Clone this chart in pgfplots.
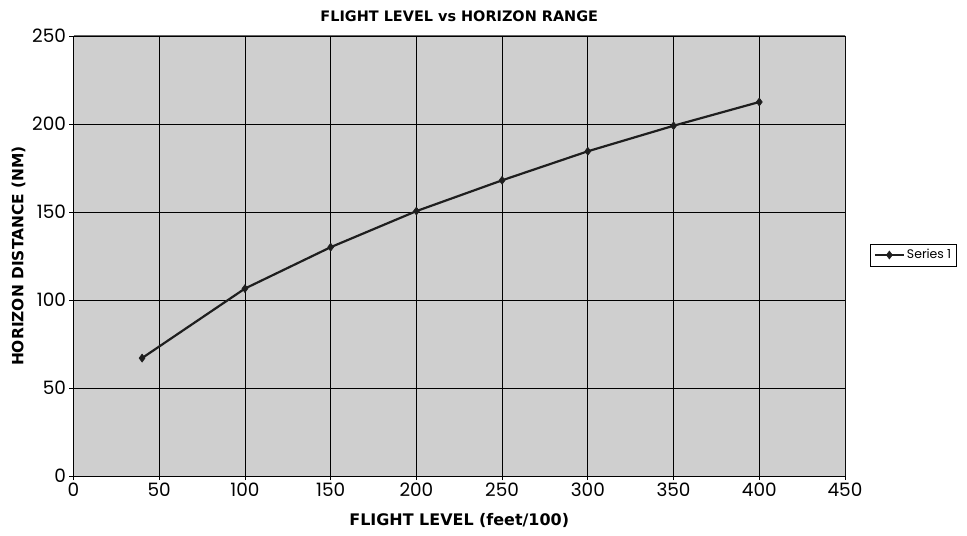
\documentclass[border=0pt]{standalone}
\usepackage{fontspec}
\setmainfont{Poppins}
\newfontfamily\labfont{DejaVu Sans}
\usepackage{pgfplots}
\pgfplotsset{compat=1.18}
\definecolor{bggray}{HTML}{CFCFCF}
\definecolor{lineclr}{HTML}{1E1E1E}
\begin{document}
\begin{tikzpicture}
\useasboundingbox (-73.5bp,-60bp) rectangle (893.5bp,476bp);
\begin{axis}[
  scale only axis,
  width=771.5bp, height=440bp,
  xmin=0, xmax=450, ymin=0, ymax=250,
  xtick={0,50,...,450}, ytick={0,50,...,250},
  grid=major,
  major grid style={black, line width=0.8pt},
  axis background/.style={fill=bggray},
  axis x line*=bottom, axis y line*=left,
  axis line style={black, line width=0.8pt},
  tick style={black, line width=0.8pt},
  tick align=outside, major tick length=4bp,
  /pgf/number format/assume math mode=true,
  ticklabel style={font=\fontsize{18.5}{18.5}\selectfont},
  xticklabel style={yshift=1bp},
  title={\labfont\bfseries\fontsize{14.5}{15}\selectfont FLIGHT LEVEL vs HORIZON RANGE},
  title style={at={(0.5,1)}, anchor=south, yshift=5bp},
  xlabel={\labfont\bfseries\fontsize{16}{16}\selectfont FLIGHT LEVEL (feet/100)},
  ylabel={\labfont\bfseries\fontsize{15.5}{16}\selectfont HORIZON DISTANCE (NM)},
  xlabel style={yshift=-10bp},
  ylabel style={yshift=0bp},
  legend style={at={(840bp,221bp)}, anchor=center, draw=black, line width=0.8pt,
    font=\fontsize{12.5}{12.5}\selectfont, inner xsep=3.5pt, inner ysep=3.5pt},
  legend cell align=left,
  legend image code/.code={\draw[#1] (0bp,0bp) -- (29bp,0bp); \draw[#1,mark repeat=1] plot coordinates {(14.5bp,0bp)};},
]
\draw[gray!80!black, line width=1pt] (axis cs:0,250) -- (axis cs:450,250) -- (axis cs:450,0);
\addplot[lineclr, line width=2.2pt, mark=diamond*, mark size=4pt, mark options={solid, fill=lineclr, line width=0.6pt}]
  coordinates {(40,67) (100,106.5) (150,130) (200,150.5) (250,168) (300,184.5) (350,199) (400,212.5)};
\addlegendentry{Series 1}
\end{axis}
\end{tikzpicture}
\end{document}
